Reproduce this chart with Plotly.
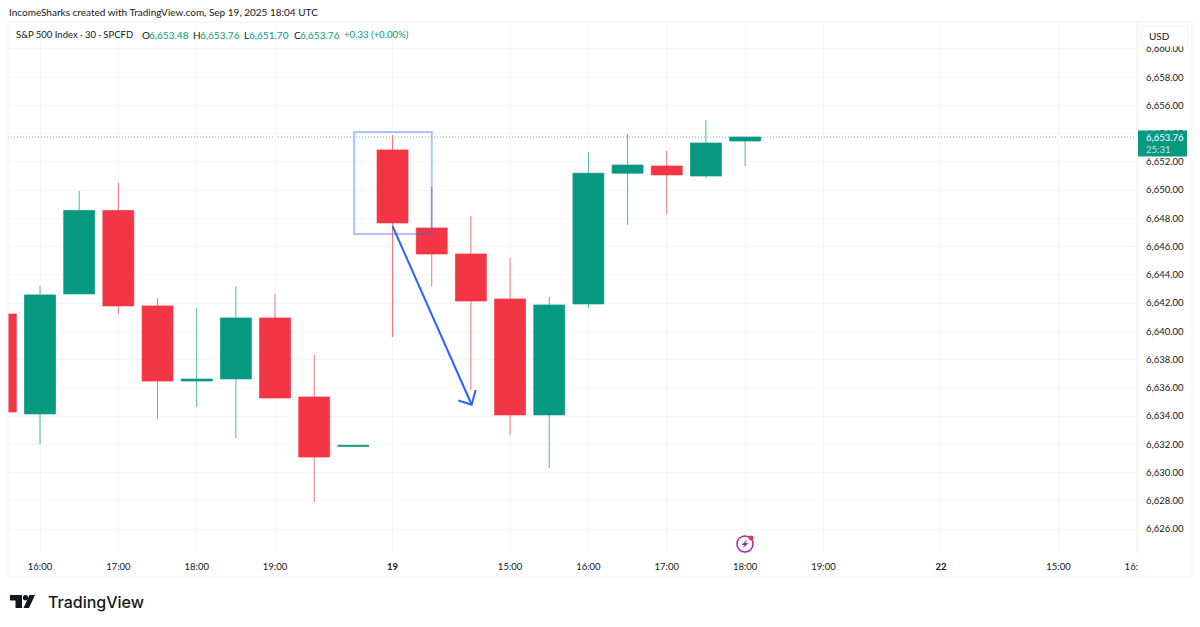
import plotly.graph_objects as go

# candle index 0 = 16:00 on the 18th, 30 minute bars
candle_idx = [-1, 0, 1, 2, 3, 4, 5, 6, 7, 8, 9, 10, 11, 12, 13, 14, 15, 16, 17, 18]
opens = [6641.23, 6634.15, 6642.65, 6648.56, 6641.80, 6636.48, 6636.63, 6640.95, 6635.35, 6631.85,
         6652.85, 6647.32, 6645.48, 6642.29, 6634.08, 6641.94, 6651.20, 6651.71, 6651.00, 6653.48]
highs = [6641.90, 6643.20, 6649.94, 6650.50, 6642.36, 6641.65, 6643.20, 6642.65, 6638.33, 6631.95,
         6653.90, 6650.23, 6648.17, 6645.20, 6642.43, 6652.70, 6653.98, 6652.78, 6654.97, 6653.76]
lows = [6634.29, 6632.00, 6642.65, 6641.23, 6633.80, 6634.64, 6632.45, 6635.28, 6627.90, 6631.80,
        6639.60, 6643.20, 6635.85, 6632.66, 6630.32, 6641.65, 6647.53, 6648.30, 6650.86, 6651.70]
closes = [6634.29, 6642.58, 6648.56, 6641.80, 6636.48, 6636.62, 6640.95, 6635.28, 6631.10, 6631.92,
          6647.68, 6645.48, 6642.15, 6634.08, 6641.87, 6651.20, 6651.78, 6651.08, 6653.34, 6653.76]

tick_idx = [0, 2, 4, 6, 9, 12, 14, 16, 18, 20, 23, 26, 28]
tick_text = ["16:00", "17:00", "18:00", "19:00", "<b>19</b>", "15:00", "16:00", "17:00", "18:00",
             "19:00", "<b>22</b>", "15:00", "16:00"]
price_ticks = list(range(6626, 6662, 2))
last_price = 6653.76

# drawing on the chart
box_x = [8.02, 10.0]
box_y = [6646.9, 6654.12]
arrow_x = [9.0, 11.02]
arrow_y = [6647.45, 6634.8]
barb_x = [10.68, 11.02, 11.12]
barb_y = [6635.1, 6634.8, 6635.85]

legend_items = [
    (15, "S&P 500 Index · 30 · SPCFD", "#131722", 9.5),
    (141, "O", "#131722", 10), (148, "6,653.48", "#089981", 10),
    (192, "H", "#131722", 10), (199, "6,653.76", "#089981", 10),
    (243, "L", "#131722", 10), (248, "6,651.70", "#089981", 10),
    (293, "C", "#131722", 10), (299, "6,653.76", "#089981", 10),
    (343, "+0.33 (+0.00%)", "#089981", 9.6),
]

RED = "#F23645"
GREEN = "#089981"
BORDER = "#EFF1F5"
GRID = "#F5F6F8"
FONT = "Lato"

# pane edges in page pixels
PANE_L, PANE_R, PANE_T, PANE_B = 8, 1138, 22, 553


def px(x):
    return (x - PANE_L) / (PANE_R - PANE_L)


def py(y):
    return (PANE_B - y) / (PANE_B - PANE_T)


def page_rect(x0, y0, x1, y1, fill, line="rgba(0,0,0,0)", width=1, layer="above"):
    return dict(type="rect", xref="paper", yref="paper", x0=px(x0), x1=px(x1), y0=py(y0), y1=py(y1),
                fillcolor=fill, line=dict(color=line, width=width), layer=layer)


def page_path(points, fill):
    d = "M" + " L".join(f"{px(x):.5f},{py(y):.5f}" for x, y in points) + " Z"
    return dict(type="path", xref="paper", yref="paper", path=d, fillcolor=fill, line=dict(width=0), layer="above")


def page_circle(cx, cy, r, fill, line="rgba(0,0,0,0)", width=0):
    return dict(type="circle", xref="paper", yref="paper", x0=px(cx - r), x1=px(cx + r), y0=py(cy + r), y1=py(cy - r),
                fillcolor=fill, line=dict(color=line, width=width), layer="above")


def page_text(x, y, text, size=11, color="#131722", anchor="left", family=FONT, weight=None):
    font = dict(family=family, size=size, color=color)
    if weight:
        font["weight"] = weight
    return dict(xref="paper", yref="paper", x=px(x), y=py(y), text=text, showarrow=False, xanchor=anchor,
                yanchor="middle", font=font, borderpad=0)


fig = go.Figure()
fig.add_trace(go.Candlestick(
    x=candle_idx, open=opens, high=highs, low=lows, close=closes,
    increasing=dict(line=dict(color="rgba(8,153,129,0.7)", width=1), fillcolor=GREEN),
    decreasing=dict(line=dict(color="rgba(242,54,69,0.7)", width=1), fillcolor=RED),
    whiskerwidth=0, showlegend=False, hoverinfo="skip",
))
fig.add_trace(go.Scatter(x=arrow_x, y=arrow_y, mode="lines", line=dict(color="#2962FF", width=2),
                         showlegend=False, hoverinfo="skip"))
fig.add_trace(go.Scatter(x=barb_x, y=barb_y, mode="lines", line=dict(color="#2962FF", width=2),
                         showlegend=False, hoverinfo="skip"))

shapes = [
    # highlight box and last price line
    dict(type="rect", xref="x", yref="y", x0=box_x[0], x1=box_x[1], y0=box_y[0], y1=box_y[1],
         line=dict(color="rgba(41,98,255,0.38)", width=2), fillcolor="rgba(41,98,255,0.0)", layer="above"),
    dict(type="line", xref="paper", yref="y", x0=0, x1=1, y0=last_price, y1=last_price,
         line=dict(color=GREEN, width=1, dash="1px,2px"), opacity=0.6, layer="below"),
    # frame
    page_rect(PANE_R, 553, 1192, 577, "#FFFFFF"),
    page_rect(PANE_L, PANE_T, 1192, 577, "rgba(0,0,0,0)", BORDER),
    dict(type="line", xref="paper", yref="paper", x0=1, x1=1, y0=py(22), y1=py(553),
         line=dict(color=BORDER, width=1), layer="above"),
    # price tag and currency box
    page_rect(1138, 130.5, 1187, 156.5, GREEN),
    page_rect(1141, 26, 1188, 46, "#FFFFFF", "#F3F4F7"),
    # logo
    page_path([(10, 595), (22, 595), (22, 608), (15.5, 608), (15.5, 600.5), (10, 600.5)], "#131722"),
    page_circle(25.5, 597.7, 2.6, "#131722"),
    page_path([(29.5, 595), (35, 595), (29, 608), (23.5, 608)], "#131722"),
    # flash icon
    page_circle(745, 544, 8, "rgba(0,0,0,0)", "#9C27B0", 1.5),
    page_path([(747.5, 539.5), (741.5, 545), (744.5, 545), (742.5, 548.5), (748.5, 543), (745.5, 543)], "#9C27B0"),
    page_circle(751, 538, 2.4, "#F23645"),
]

annotations = [
    page_text(8, 12, "IncomeSharks created with TradingView.com, Sep 19, 2025 18:04 UTC", size=10),
    page_text(1148, 36, "USD", size=10),
    page_text(1145, 137.5, "6,653.76", size=9.5, color="#FFFFFF"),
    page_text(1145, 149, "25:31", size=9.5, color="#BFE6DF"),
    page_text(47, 602, "TradingView", size=16, family="Inter", weight=500),
]
for x, text, color, size in legend_items:
    annotations.append(page_text(x, 34.5, text, size=size, color=color))

fig.update_layout(
    width=1200,
    height=627,
    margin=dict(l=PANE_L, r=1200 - PANE_R, t=PANE_T, b=627 - PANE_B, pad=0),
    paper_bgcolor="#FFFFFF",
    plot_bgcolor="#FFFFFF",
    boxgap=0.21,
    boxgroupgap=0,
    font=dict(family=FONT, size=9.5, color="#131722"),
    shapes=shapes,
    annotations=annotations,
    xaxis=dict(
        range=[-0.817, 28.03], tickmode="array", tickvals=tick_idx, ticktext=tick_text,
        rangeslider=dict(visible=False), showgrid=True, gridcolor=GRID, gridwidth=1, zeroline=False,
        showline=False, ticks="", ticklabelstandoff=6, tickfont=dict(family=FONT, size=9.5, color="#131722"),
    ),
    yaxis=dict(
        range=[6624.3, 6661.91], side="right", tickmode="array", tickvals=price_ticks,
        tickformat=",.2f", showgrid=True, gridcolor=GRID, gridwidth=1, zeroline=False, showline=False,
        ticks="", ticklabelstandoff=7, tickfont=dict(family=FONT, size=9.5, color="#131722"),
    ),
)

# the default page body has an 8px margin, drop it so the figure fills the window
fig.write_html("out.html", config={"displayModeBar": False}, post_script="document.body.style.margin = '0';")
